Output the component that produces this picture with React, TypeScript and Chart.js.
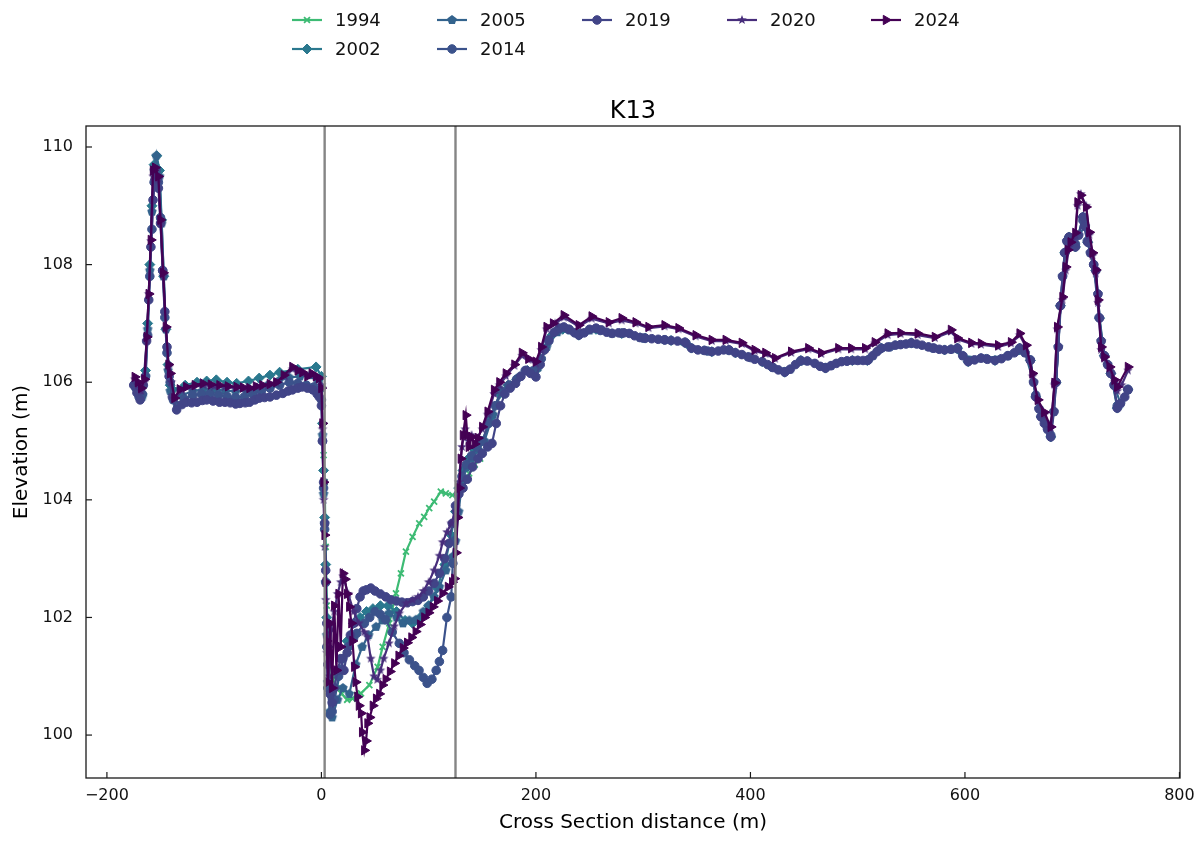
import React, { useEffect, useRef } from 'react';
import { Chart, registerables } from 'chart.js';
import { drawPoint } from 'chart.js/helpers';

Chart.register(...registerables);

// ---------------- DATA ----------------
const years = ['1994', '2002', '2005', '2014', '2019', '2020', '2024'];
const colors = ['#3dbb74', '#2a788e', '#33638d', '#3b528b', '#414487', '#472d7b', '#440154'];

const xTicks = [-200, 0, 200, 400, 600, 800];
const yTicks = [100, 102, 104, 106, 108, 110];
const vLines = [3, 125];

const s1994: [number, number][] = [
  [2, 104.76], [3, 104.3], [4, 103.2], [5, 102.2], [7, 101.4], [10, 101.0], [14, 100.8], [19, 100.7], [24, 100.6],
  [29, 100.62], [33, 100.68], [36.9, 100.71], [44.7, 100.85], [52.4, 101.16], [57.1, 101.5], [63.3, 101.9],
  [69.5, 102.41], [74.1, 102.75], [78.8, 103.12], [85, 103.37], [91.2, 103.6], [95.8, 103.71], [100.5, 103.86],
  [105.1, 103.97], [111.3, 104.14], [116, 104.11], [122.1, 104.08], [126.8, 104.08], [132, 104.2], [137.7, 104.45],
  [143, 104.6], [148, 104.7],
];

const s2002: [number, number][] = [
  [-173, 106.0], [-170, 105.85], [-167, 105.8], [-164, 106.2], [-162, 107.0], [-160, 108.0], [-158, 109.0], [-156, 109.7],
  [-153.5, 109.85], [-151, 109.6], [-149, 108.76], [-147, 107.8], [-145, 106.9], [-143, 106.3], [-141, 105.95],
  [-138.6, 105.87], [-127, 105.95], [-116, 106.0], [-107, 106.02], [-98, 106.04], [-88, 106.0], [-79, 105.98],
  [-68, 106.02], [-58, 106.07], [-48, 106.12], [-39, 106.17], [-22, 106.22], [-5, 106.26], [0, 106.1], [1, 105.3],
  [2, 104.5], [3, 103.7], [4, 102.9], [5, 102.0], [6, 101.5], [8, 100.8], [12, 100.6], [18, 101.1], [24, 101.6],
  [30, 101.9], [36, 102.0], [42, 102.1], [48, 102.15], [55, 102.2], [62, 102.2], [70, 102.1], [78, 101.95],
  [85, 101.9], [92, 102.0], [100, 102.2], [108, 102.5], [115, 102.9], [121, 103.4], [125, 103.8], [128, 104.2],
  [132, 104.5], [137, 104.7], [143, 104.85], [150, 105.0], [158, 105.4], [166, 105.8], [174, 105.95], [182, 106.05],
  [192, 106.2], [200, 106.2], [208, 106.55], [215, 106.8], [225, 106.9], [240, 106.8], [256, 106.9], [280, 106.83],
  [302, 106.75], [326, 106.71], [345, 106.58], [364, 106.52], [386, 106.5], [411, 106.35], [432, 106.17],
  [447, 106.37], [470, 106.24], [495, 106.37], [509, 106.37], [522, 106.58], [550, 106.67], [581, 106.55],
  [593, 106.58], [603, 106.35], [628, 106.37], [651, 106.58], [661, 106.37], [666, 105.75], [671, 105.41],
  [680, 105.07], [685, 106.0], [689, 107.3], [693, 108.2], [697, 108.47], [703, 108.3], [710, 108.81],
  [714.5, 108.38], [722, 107.9], [725.5, 107.09], [730, 106.45], [736, 106.15], [742, 105.56], [752, 105.87],
];

const s2005: [number, number][] = [
  [-173, 105.95], [-170, 105.8], [-167, 105.75], [-164, 106.1], [-162, 106.9], [-160, 107.9], [-158, 108.9],
  [-156, 109.6], [-154, 109.85], [-151, 109.5], [-149, 108.7], [-147, 107.8], [-145, 106.9], [-143, 106.2],
  [-141, 105.85], [-138, 105.7], [-130, 105.78], [-120, 105.85], [-110, 105.88], [-100, 105.88], [-90, 105.86],
  [-80, 105.84], [-70, 105.86], [-60, 105.9], [-50, 105.95], [-40, 106.02], [-30, 106.08], [-20, 106.1],
  [-10, 106.12], [-4, 106.05], [0, 105.9], [1, 105.1], [2, 104.1], [3, 103.6], [4, 102.6], [5, 101.7], [6, 100.9],
  [8, 100.4], [10, 100.3], [15, 100.6], [20, 100.8], [26, 100.7], [32, 101.2], [38, 101.5], [44, 101.7],
  [51, 101.84], [57, 101.95], [63, 102.07], [70, 102.0], [76, 101.9], [82, 101.95], [88, 101.96], [95, 102.1],
  [100, 102.2], [105, 102.35], [110, 102.52], [116, 102.8], [122, 103.03], [125, 103.3], [128, 103.8], [131, 104.3],
  [135, 104.55], [140, 104.7], [146, 104.85], [152, 105.0], [160, 105.45], [168, 105.85], [176, 105.95],
  [185, 106.1], [195, 106.18], [202, 106.25], [210, 106.6], [220, 106.85], [232, 106.88], [250, 106.88],
  [271, 106.83], [297, 106.76], [320, 106.72], [339, 106.68], [357, 106.54], [380, 106.55], [398, 106.43],
  [421, 106.25], [437, 106.22], [453, 106.36], [475, 106.28], [500, 106.37], [514, 106.45], [535, 106.63],
  [566, 106.6], [587, 106.56], [598, 106.45], [615, 106.41], [640, 106.45], [656, 106.5], [664, 106.0],
  [669, 105.55], [677, 105.2], [683, 105.5], [687, 106.6], [691, 107.8], [695, 108.4], [700, 108.4],
  [706, 108.5], [712, 108.65], [717, 108.2], [724, 107.5], [727, 106.7], [733, 106.3], [739, 105.95],
  [745, 105.64], [752, 105.87],
];

const s2014: [number, number][] = [
  [-173, 105.9], [-170, 105.75], [-167, 105.8], [-164, 106.1], [-162, 106.8], [-160, 107.8], [-158, 108.6],
  [-156, 109.4], [-154, 109.6], [-152, 109.4], [-150, 108.8], [-148, 107.9], [-146, 107.1], [-144, 106.5],
  [-141, 106.0], [-138, 105.7], [-134, 105.6], [-128, 105.72], [-120, 105.78], [-112, 105.8], [-104, 105.8],
  [-96, 105.78], [-88, 105.76], [-80, 105.74], [-72, 105.75], [-64, 105.8], [-56, 105.85], [-48, 105.9],
  [-39, 105.95], [-30, 106.0], [-22, 105.98], [-14, 105.95], [-7, 105.92], [-3, 105.85], [0, 105.7], [1, 105.0],
  [2, 104.2], [3, 103.5], [4, 102.6], [5, 101.5], [6, 100.8], [8, 100.35], [10, 100.4], [12, 100.6], [16, 101.0],
  [20, 101.3], [25, 101.5], [30, 101.65], [33, 101.73], [40, 101.9], [45, 102.0], [50, 102.1], [55, 102.05],
  [60, 101.96], [66, 101.75], [72.6, 101.56], [77, 101.4], [82, 101.28], [87, 101.18], [91, 101.1], [95, 100.98],
  [98.6, 100.88], [103, 100.95], [107, 101.1], [110, 101.25], [113, 101.44], [117, 102.0], [121, 102.35],
  [122.5, 102.92], [124, 103.3], [126, 103.8], [128, 104.1], [131, 104.4], [135, 104.6], [140, 104.75],
  [145, 104.9], [150, 105.0], [156, 105.3], [162, 105.6], [168, 105.85], [175, 105.95], [182, 106.05],
  [190, 106.2], [198, 106.2], [205, 106.4], [212, 106.7], [220, 106.88], [230, 106.9], [240, 106.82],
  [260, 106.88], [280, 106.83], [300, 106.75], [320, 106.72], [340, 106.66], [360, 106.53], [380, 106.54],
  [400, 106.42], [420, 106.26], [432, 106.18], [447, 106.36], [470, 106.25], [490, 106.36], [510, 106.38],
  [530, 106.6], [550, 106.66], [570, 106.58], [593, 106.57], [603, 106.36], [620, 106.4], [640, 106.45],
  [651, 106.56], [661, 106.38], [666, 105.78], [671, 105.42], [680, 105.1], [685, 106.0], [689, 107.3],
  [693, 108.2], [697, 108.45], [703, 108.35], [710, 108.75], [714, 108.4], [720, 108.0], [725, 107.1],
  [730, 106.45], [736, 106.15], [742, 105.6], [752, 105.88],
];

const s2019: [number, number][] = [
  [-175, 105.95], [-172, 105.82], [-169, 105.7], [-166, 105.95], [-163, 106.7], [-161, 107.4], [-159, 108.3],
  [-157, 109.1], [-155, 109.45], [-152, 109.3], [-150, 108.7], [-148, 107.9], [-146, 107.2], [-144, 106.6],
  [-142, 106.1], [-139, 105.75], [-135, 105.53], [-130, 105.62], [-126, 105.66], [-121, 105.65], [-116, 105.66],
  [-111, 105.69], [-107, 105.7], [-101, 105.68], [-95, 105.66], [-90, 105.66], [-85, 105.65], [-80, 105.63],
  [-76, 105.64], [-71, 105.65], [-67, 105.66], [-62, 105.7], [-58, 105.73], [-53, 105.74], [-48, 105.75],
  [-42, 105.78], [-36, 105.81], [-31, 105.85], [-27, 105.87], [-22, 105.9], [-18, 105.92], [-13, 105.9],
  [-8, 105.87], [-4, 105.8], [-2, 105.75], [0, 105.6], [1, 105.0], [2, 104.3], [3, 103.6], [4, 102.8], [5, 101.9],
  [6, 101.2], [8, 100.7], [10, 100.55], [12, 100.8], [15, 101.1], [18, 101.3], [21, 101.1], [24, 101.4],
  [27, 101.7], [30, 101.9], [33, 102.15], [36, 102.35], [39, 102.45], [42, 102.47], [46, 102.5], [50, 102.45],
  [55, 102.4], [60, 102.35], [65, 102.3], [70, 102.28], [75, 102.26], [80, 102.25], [85, 102.27], [90, 102.29],
  [95, 102.35], [100, 102.45], [105, 102.58], [110, 102.75], [115, 103.0], [119, 103.26], [122, 103.6],
  [125, 103.9], [128, 104.1], [132, 104.2], [136, 104.35], [141, 104.56], [146, 104.7], [150, 104.79],
  [155, 104.9], [159, 104.96], [163, 105.3], [167, 105.6], [171, 105.8], [176, 105.9], [181, 105.98],
  [186, 106.1], [191, 106.2], [195, 106.15], [200, 106.09], [204, 106.3], [208, 106.55], [212, 106.72],
  [217, 106.85], [222, 106.92], [226, 106.94], [231, 106.9], [236, 106.84], [240, 106.8], [245, 106.84],
  [250, 106.9], [256, 106.92], [261, 106.89], [266, 106.85], [271, 106.83], [277, 106.84], [282, 106.84],
  [287, 106.83], [292, 106.79], [297, 106.76], [302, 106.75], [308, 106.74], [314, 106.73], [320, 106.72],
  [326, 106.71], [332, 106.7], [339, 106.68], [345, 106.58], [351, 106.55], [357, 106.54], [364, 106.52],
  [370, 106.53], [375, 106.55], [380, 106.55], [386, 106.5], [392, 106.47], [398, 106.43], [404, 106.39],
  [411, 106.35], [416, 106.3], [421, 106.25], [426, 106.21], [432, 106.17], [437, 106.22], [442, 106.3],
  [447, 106.37], [453, 106.36], [460, 106.32], [465, 106.27], [470, 106.24], [475, 106.28], [480, 106.32],
  [485, 106.35], [490, 106.36], [495, 106.37], [500, 106.37], [505, 106.37], [509, 106.37], [514, 106.45],
  [518, 106.52], [522, 106.58], [528, 106.6], [535, 106.63], [540, 106.64], [545, 106.65], [550, 106.67],
  [555, 106.65], [560, 106.63], [566, 106.6], [571, 106.58], [576, 106.56], [581, 106.55], [587, 106.56],
  [593, 106.58], [598, 106.45], [603, 106.35], [609, 106.38], [615, 106.41], [621, 106.39], [628, 106.37],
  [634, 106.4], [640, 106.45], [646, 106.5], [651, 106.58], [656, 106.5], [661, 106.37], [664, 106.0],
  [666, 105.75], [669, 105.55], [671, 105.41], [674, 105.3], [677, 105.2], [680, 105.07], [683, 105.5],
  [685, 106.0], [687, 106.6], [689, 107.3], [691, 107.8], [693, 108.2], [695, 108.4], [697, 108.47],
  [700, 108.4], [703, 108.3], [706, 108.5], [710, 108.81], [712, 108.65], [714.5, 108.38], [717, 108.2],
  [720, 108.0], [722, 107.9], [724, 107.5], [725.5, 107.09], [727, 106.7], [730, 106.45], [733, 106.3],
  [736, 106.15], [739, 105.95], [742, 105.56], [745, 105.64], [749, 105.75], [752, 105.87],
];

const s2020: [number, number][] = [
  [-174, 106.05], [-171, 105.95], [-168, 105.85], [-165, 106.0], [-163, 106.7], [-161, 107.5], [-159, 108.4],
  [-157, 109.5], [-155, 109.6], [-152, 109.45], [-150, 108.7], [-147.5, 107.8], [-145, 106.9], [-142.5, 106.25],
  [-140, 106.0], [-137, 105.72], [-130, 105.86], [-120, 105.92], [-110, 105.95], [-100, 105.93], [-90, 105.92],
  [-80, 105.9], [-70, 105.89], [-60, 105.92], [-50, 105.95], [-42, 105.99], [-34, 106.1], [-27, 106.22],
  [-18, 106.15], [-9, 106.12], [-3, 106.05], [0, 105.95], [1, 105.2], [2, 104.0], [3, 103.2], [4, 102.3],
  [5, 101.4], [7, 101.0], [9, 101.8], [12, 102.1], [15, 102.4], [18, 102.6], [20, 102.7], [25, 102.4],
  [30, 102.1], [35, 101.9], [40, 101.75], [43, 101.67], [46, 101.3], [49, 101.0], [52, 100.94], [55, 101.1],
  [58, 101.3], [63, 101.56], [68, 101.85], [72.6, 102.07], [79, 102.24], [85, 102.3], [90, 102.35], [95, 102.45],
  [100, 102.6], [105, 102.8], [110, 103.05], [113, 103.28], [117, 103.45], [121, 103.6], [125, 103.8],
  [128, 104.3], [131, 104.9], [134, 105.2], [137, 105.0], [140, 105.1], [145, 105.05], [150, 105.2],
  [155, 105.45], [161, 105.8], [166, 105.95], [172, 106.1], [180, 106.28], [187, 106.45], [193, 106.38],
  [200, 106.32], [205, 106.55], [210, 106.9], [218, 107.0], [226, 107.1], [240, 106.95], [252, 107.08],
  [268, 107.0], [280, 107.05], [293, 107.0], [305, 106.92], [320, 106.95], [333, 106.9], [349, 106.78],
  [364, 106.7], [377, 106.7], [392, 106.65], [404, 106.53], [414, 106.48], [423, 106.4], [438, 106.5],
  [454, 106.56], [466, 106.48], [482, 106.56], [494, 106.56], [507, 106.56], [516, 106.66], [528, 106.8],
  [540, 106.82], [556, 106.8], [572, 106.75], [587, 106.86], [593, 106.73], [606, 106.65], [615, 106.64],
  [631, 106.6], [643, 106.66], [651, 106.8], [657, 106.6], [663, 106.1], [668, 105.68], [674, 105.45],
  [680, 105.22], [683.5, 105.95], [686, 106.9], [691, 107.4], [694, 107.9], [697, 108.3], [700, 108.42],
  [703, 108.5], [705, 109.0], [708, 109.2], [713, 109.0], [716, 108.5], [719, 108.15], [722, 107.85],
  [724, 107.35], [727, 106.55], [730, 106.4], [735, 106.22], [739.5, 106.0], [742, 105.85], [746, 105.95],
  [752, 106.2],
];

const s2024: [number, number][] = [
  [-174, 106.09], [-171, 106.0], [-168, 105.9], [-165, 106.05], [-162.8, 106.77], [-161, 107.5], [-159, 108.42],
  [-157, 109.6], [-155, 109.65], [-152, 109.5], [-150, 108.76], [-147.5, 107.86], [-145, 106.94], [-142.5, 106.3],
  [-141, 106.15], [-137, 105.73], [-132, 105.88], [-126, 105.92], [-118, 105.95], [-110.5, 105.98], [-103, 105.96],
  [-95, 105.95], [-87, 105.93], [-79, 105.92], [-73, 105.91], [-67, 105.9], [-61, 105.93], [-55, 105.95],
  [-48, 105.97], [-42, 106.0], [-35, 106.12], [-27, 106.26], [-22, 106.2], [-17.7, 106.17], [-13, 106.1],
  [-9, 106.15], [-5, 106.1], [-2, 106.07], [0, 105.9], [1, 105.3], [2, 104.3], [3, 103.4], [4, 102.6], [5, 101.6],
  [6, 100.9], [8, 101.9], [10, 100.8], [12, 102.2], [14, 101.1], [16, 102.4], [18, 101.5], [20, 102.75],
  [22, 102.65], [24, 102.4], [26, 102.18], [28, 101.9], [29, 101.6], [30.7, 101.16], [32, 100.9], [33.6, 100.65],
  [35, 100.5], [37, 100.37], [38, 100.05], [40, 99.74], [41.6, 99.9], [43, 100.2], [45, 100.3], [48, 100.5],
  [51, 100.62], [54, 100.7], [57, 100.85], [60, 100.95], [64, 101.08], [68, 101.22], [72, 101.35], [76, 101.48],
  [80, 101.57], [84, 101.66], [88, 101.76], [92, 101.88], [96, 102.0], [100, 102.08], [104, 102.18],
  [108, 102.28], [113, 102.41], [118, 102.52], [122, 102.6], [124, 102.66], [125.5, 103.1], [127, 103.7],
  [128.5, 104.2], [130, 104.7], [132, 105.1], [134.6, 105.44], [136, 105.1], [137.5, 104.9], [140, 105.07],
  [143, 104.95], [146, 105.05], [150, 105.24], [155, 105.5], [161, 105.87], [166, 106.0], [172, 106.15],
  [180, 106.3], [187, 106.5], [193, 106.4], [200, 106.35], [205, 106.6], [210, 106.94], [216, 107.0],
  [226, 107.14], [240, 106.97], [252, 107.12], [268, 107.02], [280, 107.09], [293, 107.02], [305, 106.94],
  [320, 106.97], [333, 106.92], [349, 106.8], [364, 106.72], [377, 106.72], [392, 106.67], [404, 106.55],
  [414, 106.5], [423, 106.41], [438, 106.52], [454, 106.58], [466, 106.5], [482, 106.58], [494, 106.58],
  [507, 106.58], [516, 106.68], [528, 106.83], [540, 106.84], [556, 106.83], [572, 106.77], [587, 106.89],
  [593, 106.75], [606, 106.67], [615, 106.66], [631, 106.63], [643, 106.68], [651, 106.83], [657, 106.63],
  [663, 106.15], [668, 105.7], [674, 105.49], [680, 105.24], [683.5, 105.99], [686, 106.94], [691, 107.45],
  [694, 107.96], [696, 108.25], [698.6, 108.38], [703, 108.54], [705, 109.06], [708, 109.18], [713, 108.98],
  [716, 108.55], [719, 108.2], [722, 107.91], [724, 107.4], [727, 106.6], [730, 106.43], [735, 106.26],
  [739.5, 106.04], [742, 105.92], [752, 106.26],
];

const seriesData = [s1994, s2002, s2005, s2014, s2019, s2020, s2024];

// ---------------- STYLE HELPERS ----------------
const FONT = "'DejaVu Sans', sans-serif";

function polygonCanvas(color: string, r: number, n: number, inner: number | null): HTMLCanvasElement {
  const size = Math.ceil(r * 2 + 2);
  const c = document.createElement('canvas');
  c.width = size;
  c.height = size;
  const g = c.getContext('2d')!;
  const cx = size / 2;
  const cy = size / 2;
  g.beginPath();
  const pts = inner ? n * 2 : n;
  for (let i = 0; i < pts; i++) {
    const ang = -Math.PI / 2 + (i * 2 * Math.PI) / pts;
    const rr = inner && i % 2 === 1 ? r * inner : r;
    const px = cx + rr * Math.cos(ang);
    const py = cy + rr * Math.sin(ang);
    if (i === 0) g.moveTo(px, py);
    else g.lineTo(px, py);
  }
  g.closePath();
  g.fillStyle = color;
  g.fill();
  return c;
}

type MarkerDef = { style: any; radius: number; rotation: number; bw: number };

function markerFor(i: number): MarkerDef {
  const col = colors[i];
  switch (i) {
    case 0: return { style: 'crossRot', radius: 4.2, rotation: 0, bw: 1.8 };
    case 1: return { style: 'rectRot', radius: 5, rotation: 0, bw: 1 };
    case 2: return { style: polygonCanvas(col, 5, 5, null), radius: 5, rotation: 0, bw: 1 };
    case 3: return { style: 'circle', radius: 4.3, rotation: 0, bw: 1 };
    case 4: return { style: 'circle', radius: 4.3, rotation: 0, bw: 1 };
    case 5: return { style: polygonCanvas(col, 5, 5, 0.42), radius: 5, rotation: 0, bw: 1 };
    default: return { style: 'triangle', radius: 5.4, rotation: 90, bw: 1 };
  }
}

const legendPos: [number, number][] = [
  [292, 20], [292, 49], [437, 20], [437, 49], [582, 20], [727, 20], [871, 20],
];

const overlayPlugin = {
  id: 'overlay',
  afterDatasetsDraw(chart: any) {
    const { ctx, chartArea: a, scales } = chart;
    const xs = scales.x;
    const ys = scales.y;
    ctx.save();
    // vertical reference lines
    ctx.strokeStyle = '#858585';
    ctx.lineWidth = 2.4;
    for (const v of vLines) {
      const px = xs.getPixelForValue(v);
      ctx.beginPath();
      ctx.moveTo(px, a.top);
      ctx.lineTo(px, a.bottom);
      ctx.stroke();
    }
    // frame
    ctx.strokeStyle = '#1a1a1a';
    ctx.lineWidth = 1.3;
    ctx.strokeRect(a.left, a.top, a.right - a.left, a.bottom - a.top);
    // inward ticks
    ctx.lineWidth = 1.2;
    for (const v of xTicks) {
      const px = xs.getPixelForValue(v);
      ctx.beginPath();
      ctx.moveTo(px, a.bottom);
      ctx.lineTo(px, a.bottom - 6);
      ctx.stroke();
    }
    for (const v of yTicks) {
      const py = ys.getPixelForValue(v);
      ctx.beginPath();
      ctx.moveTo(a.left, py);
      ctx.lineTo(a.left + 6, py);
      ctx.stroke();
    }
    // titles
    ctx.fillStyle = '#000';
    ctx.textAlign = 'center';
    ctx.textBaseline = 'middle';
    ctx.font = `24px ${FONT}`;
    ctx.fillText('K13', (a.left + a.right) / 2, 112);
    ctx.font = `20px ${FONT}`;
    ctx.fillText('Cross Section distance (m)', (a.left + a.right) / 2, 823);
    ctx.save();
    ctx.translate(22, (a.top + a.bottom) / 2);
    ctx.rotate(-Math.PI / 2);
    ctx.fillText('Elevation (m)', 0, 0);
    ctx.restore();
    // legend
    ctx.font = `18px ${FONT}`;
    ctx.textAlign = 'left';
    years.forEach((yr, i) => {
      const [lx, ly] = legendPos[i];
      ctx.strokeStyle = colors[i];
      ctx.fillStyle = colors[i];
      ctx.lineWidth = 2.2;
      ctx.beginPath();
      ctx.moveTo(lx, ly);
      ctx.lineTo(lx + 30, ly);
      ctx.stroke();
      const m = markerFor(i);
      ctx.lineWidth = m.bw;
      drawPoint(ctx, { pointStyle: m.style, radius: m.radius, rotation: m.rotation, borderWidth: m.bw } as any, lx + 15, ly);
      ctx.fillStyle = '#111';
      ctx.fillText(yr, lx + 43, ly + 1);
    });
    ctx.restore();
  },
};

export default function App() {
  const ref = useRef<HTMLCanvasElement | null>(null);
  useEffect(() => {
    if (!ref.current) return;
    Chart.defaults.font.family = FONT;
    const datasets = years.map((yr, i) => {
      const m = markerFor(i);
      return {
        label: yr,
        data: seriesData[i].map(([x, y]) => ({ x, y })),
        borderColor: colors[i],
        backgroundColor: colors[i],
        pointBackgroundColor: colors[i],
        pointBorderColor: colors[i],
        pointStyle: m.style,
        pointRadius: m.radius,
        pointRotation: m.rotation,
        pointBorderWidth: m.bw,
        borderWidth: 2.2,
        tension: 0,
        showLine: true,
        order: years.length - i,
      };
    });
    const chart = new Chart(ref.current, {
      type: 'line',
      data: { datasets } as any,
      options: {
        animation: false,
        responsive: false,
        devicePixelRatio: 1,
        events: [],
        layout: { padding: { top: 126, right: 23, left: 0, bottom: 0 } },
        plugins: { legend: { display: false }, title: { display: false }, tooltip: { enabled: false } },
        scales: {
          x: {
            type: 'linear',
            min: -219.5,
            max: 800.5,
            grid: { display: false, drawTicks: false },
            border: { display: false },
            afterBuildTicks: (s: any) => { s.ticks = xTicks.map((v) => ({ value: v })); },
            afterFit: (s: any) => { s.height = 63; },
            ticks: {
              color: '#111',
              font: { size: 16, family: FONT },
              padding: 8,
              maxRotation: 0,
              callback: (v: any) => String(v).replace('-', '\u2212'),
            },
          },
          y: {
            type: 'linear',
            min: 99.27,
            max: 110.357,
            grid: { display: false, drawTicks: false },
            border: { display: false },
            afterBuildTicks: (s: any) => { s.ticks = yTicks.map((v) => ({ value: v })); },
            afterFit: (s: any) => { s.width = 86; },
            ticks: {
              color: '#111',
              font: { size: 16, family: FONT },
              padding: 13,
              callback: (v: any) => String(v),
            },
          },
        },
      } as any,
      plugins: [overlayPlugin],
    });
    return () => chart.destroy();
  }, []);
  return (
    <div style={{ position: 'absolute', left: 0, top: 0, width: 1203, height: 841, background: '#fff' }}>
      <canvas ref={ref} width={1203} height={841} style={{ display: 'block', width: 1203, height: 841 }} />
    </div>
  );
}
